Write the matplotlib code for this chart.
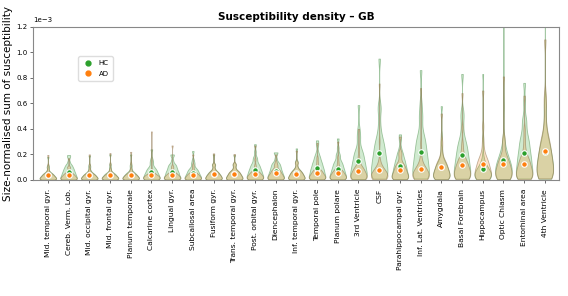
import numpy as np
import matplotlib
matplotlib.use("Agg")
import matplotlib.pyplot as plt
from matplotlib.lines import Line2D

# ---- data (values in units of 1e-3) ----
regions = ["Mid. temporal gyr.", "Cereb. Verm. Lob.", "Mid. occipital gyr.", "Mid. frontal gyr.",
           "Planum temporale", "Calcarine cortex", "Lingual gyr.", "Subcallosal area",
           "Fusiform gyr.", "Trans. temporal gyr.", "Post. orbital gyr.", "Diencephalon",
           "Inf. temporal gyr.", "Temporal pole", "Planum polare", "3rd Ventricle", "CSF",
           "Parahippocampal gyr.", "Inf. Lat. Ventricles", "Amygdala", "Basal Forebrain",
           "Hippocampus", "Optic Chiasm", "Entorhinal area", "4th Ventricle"]

# number of subjects falling in each value bin (same bin profile for every group)
bin_counts = [5, 5, 4, 4, 3, 3, 2, 1, 1, 1, 1, 1]

hc_bins = [
    [.002, .011, .020, .029, .038, .047, .056, .065, .077, .097, .108, .180],
    [.003, .020, .037, .054, .071, .087, .104, .121, .145, .181, .117, .195],
    [.002, .011, .020, .029, .038, .047, .057, .066, .078, .099, .114, .190],
    [.002, .011, .020, .029, .038, .047, .055, .064, .077, .097, .120, .200],
    [.002, .012, .021, .031, .040, .050, .060, .069, .083, .104, .120, .200],
    [.003, .018, .034, .049, .065, .080, .096, .111, .132, .166, .144, .240],
    [.004, .021, .039, .057, .074, .092, .110, .127, .152, .191, .120, .200],
    [.003, .018, .032, .047, .062, .076, .091, .106, .126, .159, .136, .226],
    [.002, .013, .025, .036, .047, .058, .070, .081, .097, .121, .120, .200],
    [.002, .014, .026, .037, .049, .060, .072, .084, .100, .126, .117, .195],
    [.004, .025, .045, .066, .086, .107, .128, .148, .177, .222, .168, .280],
    [.004, .024, .043, .063, .083, .102, .122, .142, .169, .213, .130, .216],
    [.003, .015, .028, .041, .053, .066, .079, .091, .109, .137, .148, .247],
    [.005, .030, .056, .081, .106, .131, .157, .182, .217, .273, .186, .310],
    [.005, .028, .051, .075, .098, .122, .145, .168, .201, .252, .195, .325],
    [.007, .045, .082, .120, .157, .195, .232, .270, .322, .404, .352, .586],
    [.010, .062, .113, .165, .216, .268, .319, .370, .442, .556, .570, .950],
    [.006, .035, .064, .094, .123, .152, .182, .211, .252, .316, .214, .357],
    [.011, .067, .122, .178, .233, .289, .344, .400, .478, .600, .516, .860],
    [.005, .027, .050, .073, .095, .118, .141, .163, .195, .245, .347, .578],
    [.010, .059, .108, .158, .207, .256, .305, .355, .424, .532, .498, .830],
    [.003, .020, .037, .054, .071, .088, .105, .122, .146, .184, .330, .830],
    [.006, .037, .067, .098, .128, .159, .190, .220, .263, .330, .580, 1.450],
    [.011, .067, .124, .180, .236, .292, .349, .405, .484, .607, .456, .760],
    [.010, .059, .108, .158, .207, .256, .306, .355, .424, .532, .600, 1.500],
]

ad_bins = [
    [.002, .010, .018, .027, .035, .044, .052, .060, .072, .091, .117, .195],
    [.002, .011, .020, .029, .038, .047, .057, .066, .078, .099, .102, .170],
    [.002, .010, .018, .027, .035, .043, .051, .060, .071, .090, .120, .200],
    [.002, .010, .018, .026, .034, .042, .051, .059, .070, .088, .126, .210],
    [.002, .010, .018, .027, .035, .043, .051, .060, .071, .090, .132, .220],
    [.001, .008, .016, .023, .030, .037, .044, .051, .061, .076, .152, .380],
    [.002, .011, .020, .029, .038, .047, .056, .065, .077, .097, .108, .270],
    [.002, .011, .020, .030, .039, .048, .058, .067, .080, .100, .120, .200],
    [.002, .013, .024, .034, .045, .056, .067, .078, .093, .116, .125, .208],
    [.002, .014, .026, .038, .050, .061, .073, .085, .102, .128, .122, .203],
    [.002, .013, .024, .034, .045, .056, .066, .077, .092, .116, .162, .270],
    [.003, .016, .029, .042, .055, .069, .082, .095, .113, .142, .120, .200],
    [.002, .015, .027, .040, .052, .064, .077, .089, .106, .133, .138, .230],
    [.003, .016, .028, .041, .054, .067, .080, .093, .111, .140, .174, .290],
    [.003, .016, .029, .042, .055, .068, .081, .094, .113, .142, .180, .300],
    [.003, .020, .037, .054, .071, .088, .105, .122, .146, .183, .240, .400],
    [.003, .017, .031, .045, .060, .074, .088, .102, .122, .153, .302, .755],
    [.004, .025, .045, .066, .086, .107, .127, .148, .177, .222, .204, .340],
    [.003, .021, .038, .055, .073, .090, .107, .125, .149, .187, .288, .720],
    [.005, .030, .054, .079, .104, .128, .153, .178, .212, .266, .312, .520],
    [.005, .032, .058, .085, .111, .138, .164, .191, .228, .286, .408, .680],
    [.006, .035, .063, .092, .121, .150, .178, .207, .247, .311, .420, .700],
    [.006, .034, .063, .092, .120, .149, .177, .206, .246, .309, .324, .810],
    [.006, .035, .065, .094, .124, .153, .182, .212, .253, .318, .396, .660],
    [.011, .065, .119, .173, .227, .281, .336, .390, .465, .585, .660, 1.100],
]

y_ticks = [0.0, 0.2, 0.4, 0.6, 0.8, 1.0, 1.2]
UNIT = 1e-3

# ---- expand the frequency tables into subject samples ----
hc_data = [np.repeat(np.array(v) * UNIT, bin_counts) for v in hc_bins]
ad_data = [np.repeat(np.array(v) * UNIT, bin_counts) for v in ad_bins]
pos = np.arange(len(regions))

GREEN = "#2ca02c"
ORANGE = "#ff7f0e"

fig = plt.figure(figsize=(5.68, 2.96), dpi=100)
ax = fig.add_axes([0.058, 0.392, 0.926, 0.518])

for data, col, edge in [(hc_data, GREEN, (0.35, 0.6, 0.35, 0.55)),
                        (ad_data, ORANGE, (0.55, 0.45, 0.3, 0.55))]:
    parts = ax.violinplot(data, positions=pos, widths=0.8, showextrema=False,
                          showmeans=False, showmedians=False, bw_method=0.25)
    for b in parts["bodies"]:
        b.set_alpha(None)
        b.set_facecolor(matplotlib.colors.to_rgba(col, 0.22))
        b.set_edgecolor(edge)
        b.set_linewidth(0.6)

hc_mean = [np.mean(d) for d in hc_data]
ad_mean = [np.mean(d) for d in ad_data]
ax.scatter(pos, hc_mean, s=16, c=GREEN, edgecolors="white", linewidths=0.8, zorder=3)
ax.scatter(pos, ad_mean, s=16, c=ORANGE, edgecolors="white", linewidths=0.8, zorder=4)

ax.set_xlim(-0.72, len(regions) - 1 + 0.68)
ax.set_ylim(0, 1.2e-3)
ax.set_yticks(np.array(y_ticks) * UNIT)
ax.ticklabel_format(axis="y", style="sci", scilimits=(-3, -3))
ax.yaxis.get_offset_text().set_fontsize(5)
ax.set_xticks(pos)
ax.set_xticklabels(regions, rotation=90, fontsize=5.4)
ax.tick_params(axis="y", labelsize=5, length=2.5, width=0.6, color="#555555", pad=1.5)
ax.tick_params(axis="x", length=2.5, width=0.6, color="#555555", pad=4)
for s in ax.spines.values():
    s.set_color("#888888")
    s.set_linewidth(0.8)

ax.set_title("Susceptibility density – GB", fontsize=7.5, fontweight="bold", pad=4.5)
ax.set_ylabel("Size-normalised sum of susceptibility", fontsize=7.5, labelpad=2.5)

handles = [Line2D([], [], ls="none", marker="o", ms=3.5, mfc=GREEN, mec=GREEN, label="HC"),
           Line2D([], [], ls="none", marker="o", ms=3.5, mfc=ORANGE, mec=ORANGE, label="AD")]
ax.legend(handles=handles, loc="upper left", bbox_to_anchor=(0.08, 0.83), fontsize=5,
          frameon=True, edgecolor="#dddddd", framealpha=1, handletextpad=0.8,
          borderpad=0.6, labelspacing=0.6, handlelength=1.5)

fig.savefig("out.png", dpi=100)
